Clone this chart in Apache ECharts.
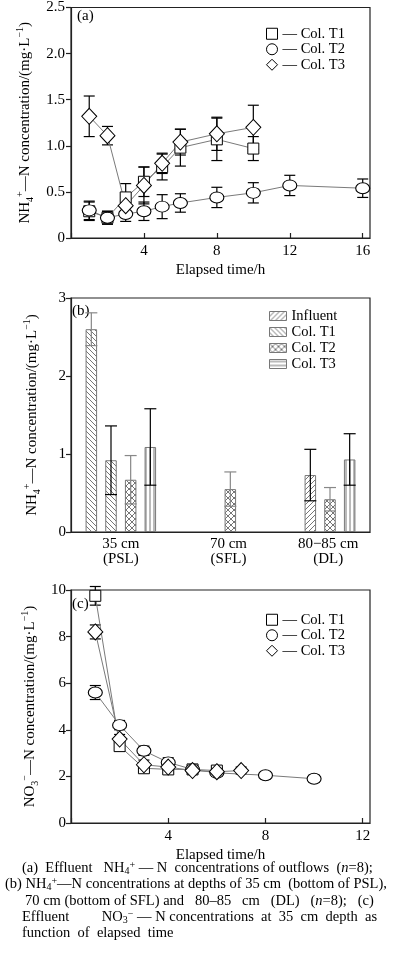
<!DOCTYPE html>
<html><head><meta charset="utf-8">
<script src="https://cdn.jsdelivr.net/npm/echarts@6.0.0/dist/echarts.min.js"></script>
<style>html,body{margin:0;padding:0;background:#fff}#c{width:397px;height:963px}</style>
</head><body><div id="c"></div>
<script>
// ================= DATA =================
// Panel (a): effluent NH4+-N vs elapsed time
const timeA_T1 = [1, 2, 3, 4, 5, 6, 8, 10];
const nh4A_T1 = [0.29, 0.22, 0.44, 0.61, 0.77, 0.98, 1.07, 0.97];
const errA_T1 = [0.10, 0.07, 0.15, 0.16, 0.14, 0.20, 0.23, 0.13];
const timeA_T2 = [1, 2, 3, 4, 5, 6, 8, 10, 12, 16];
const nh4A_T2 = [0.30, 0.22, 0.26, 0.29, 0.34, 0.38, 0.44, 0.49, 0.57, 0.54];
const errA_T2 = [0.10, 0.07, 0.08, 0.10, 0.13, 0.10, 0.11, 0.11, 0.11, 0.10];
const timeA_T3 = [1, 2, 3, 4, 5, 6, 8, 10];
const nh4A_T3 = [1.32, 1.11, 0.35, 0.57, 0.81, 1.04, 1.13, 1.20];
const errA_T3 = [0.22, 0.10, 0.06, 0.20, 0.11, 0.14, 0.18, 0.24];
const yTicksA = ['0', '0.5', '1.0', '1.5', '2.0', '2.5'];

// Panel (b): NH4+-N at depths
const depthCategories = ['35 cm\n(PSL)', '70 cm\n(SFL)', '80\u221285 cm\n(DL)'];
const nh4B_Influent = [2.6, '-', '-'];
const nh4B_T1 = [0.92, '-', 0.73];
const nh4B_T2 = [0.67, 0.55, 0.42];
const nh4B_T3 = [1.09, '-', 0.93];
const errB_Influent = [0.21, 0, 0];
const errB_T1 = [0.44, 0, 0.33];
const errB_T2 = [0.31, 0.22, 0.15];
const errB_T3 = [0.49, 0, 0.33];

// Panel (c): effluent NO3--N vs elapsed time
const timeC_T1 = [1, 2, 3, 4, 5, 6];
const no3C_T1 = [9.75, 3.3, 2.35, 2.3, 2.3, 2.25];
const errC_T1 = [0.40, 0.2, 0.15, 0.15, 0.15, 0.15];
const timeC_T2 = [1, 2, 3, 4, 5, 6, 8, 10];
const no3C_T2 = [5.6, 4.2, 3.1, 2.6, 2.3, 2.15, 2.05, 1.9];
const errC_T2 = [0.3, 0.2, 0.2, 0.2, 0.15, 0.15, 0.15, 0.15];
const timeC_T3 = [1, 2, 3, 4, 5, 6, 7];
const no3C_T3 = [8.2, 3.6, 2.5, 2.4, 2.25, 2.2, 2.25];
const errC_T3 = [0.3, 0.2, 0.2, 0.15, 0.15, 0.15, 0.15];

// ================= STYLE / BUILD =================
const FONT = '"Liberation Serif", "Times New Roman", serif';
const AX = '#222';

function pattern(kind, size) {
  const s = size, c = document.createElement('canvas');
  c.width = s; c.height = s;
  const g = c.getContext('2d');
  g.fillStyle = '#fff'; g.fillRect(0, 0, s, s);
  g.strokeStyle = '#666'; g.lineWidth = 0.9;
  g.beginPath();
  for (const d of [-s, 0, s]) {
    if (kind === 'back' || kind === 'cross') { g.moveTo(d, 0); g.lineTo(d + s, s); }
    if (kind === 'slash' || kind === 'cross') { g.moveTo(d, s); g.lineTo(d + s, 0); }
  }
  if (kind === 'vert') { g.moveTo(s / 2, 0); g.lineTo(s / 2, s); }
  if (kind === 'horiz') { g.moveTo(0, s / 2); g.lineTo(s, s / 2); }
  g.stroke();
  return { image: c, repeat: 'repeat' };
}
const P = {
  slash: pattern('slash', 5), back: pattern('back', 5), cross: pattern('cross', 6),
  vert: pattern('vert', 4), horiz: pattern('horiz', 4)
};

const markerStyle = { color: '#fff', borderColor: '#000', borderWidth: 1 };
const SYM = { T1: ['rect', [11, 11]], T2: ['circle', [14, 11]], T3: ['diamond', [15, 16]] };

function lineSeries(id, idx, xs, ys, sym) {
  return {
    id: id, name: id, type: 'line', xAxisIndex: idx, yAxisIndex: idx,
    data: xs.map((x, i) => [x, ys[i]]),
    symbol: SYM[sym][0], symbolSize: SYM[sym][1],
    itemStyle: markerStyle, lineStyle: { color: '#7a7a7a', width: 1 },
    z: 4, silent: true, animation: false, clip: false
  };
}
function errSeries(idx, xs, ys, es) {
  return {
    type: 'custom', xAxisIndex: idx, yAxisIndex: idx, z: 2, silent: true, animation: false,
    data: xs.map((x, i) => [x, ys[i] - es[i], ys[i] + es[i]]),
    encode: { x: 0, y: [1, 2] },
    renderItem: function (params, api) {
      const x = api.value(0), lo = api.value(1), hi = api.value(2);
      const a = api.coord([x, hi]), b = api.coord([x, lo]);
      const st = { stroke: '#000', lineWidth: 1.2 };
      const w = 5.5;
      return { type: 'group', children: [
        { type: 'line', shape: { x1: a[0], y1: a[1], x2: b[0], y2: b[1] }, style: st },
        { type: 'line', shape: { x1: a[0] - w, y1: a[1], x2: a[0] + w, y2: a[1] }, style: st },
        { type: 'line', shape: { x1: b[0] - w, y1: b[1], x2: b[0] + w, y2: b[1] }, style: st }
      ] };
    }
  };
}

const BAR_W = 11.5, BAR_GAP = 0.71, BAR_STEP = BAR_W * (1 + BAR_GAP);
const barSeriesDefs = [
  { id: 'b_Inf', vals: nh4B_Influent, errs: errB_Influent, pat: P.slash, over: { 0: P.back }, ec: '#888' },
  { id: 'b_T1', vals: nh4B_T1, errs: errB_T1, pat: P.back, over: { 2: P.slash }, ec: '#000' },
  { id: 'b_T2', vals: nh4B_T2, errs: errB_T2, pat: P.cross, over: {}, ec: '#888' },
  { id: 'b_T3', vals: nh4B_T3, errs: errB_T3, pat: P.vert, over: {}, ec: '#000' }
];
const barSeries = barSeriesDefs.map(d => ({
  id: d.id, name: d.id, type: 'bar', xAxisIndex: 1, yAxisIndex: 1,
  barWidth: BAR_W, barGap: (BAR_GAP * 100) + '%',
  itemStyle: { color: d.pat, borderColor: '#777', borderWidth: 1 },
  data: d.vals.map((v, i) => d.over[i] && v !== '-' ? { value: v, itemStyle: { color: d.over[i] } } : v),
  z: 2, silent: true, animation: false
}));
const barErrData = [];
barSeriesDefs.forEach((d, k) => d.vals.forEach((v, i) => {
  if (v !== '-') barErrData.push([i, v, d.errs[i], k]);
}));
const barErr = {
  type: 'custom', xAxisIndex: 1, yAxisIndex: 1, z: 6, silent: true, animation: false,
  data: barErrData, encode: { x: 0, y: 1 },
  renderItem: function (params, api) {
    const cat = api.value(0), v = api.value(1), e = api.value(2), k = api.value(3);
    const c = api.coord([cat, v]);
    const x = c[0] + (k - 1.5) * BAR_STEP;
    const yt = api.coord([cat, v + e])[1], yb = api.coord([cat, v - e])[1];
    const st = { stroke: barSeriesDefs[k].ec, lineWidth: 1.2 };
    const w = 6;
    return { type: 'group', children: [
      { type: 'line', shape: { x1: x, y1: yt, x2: x, y2: yb }, style: st },
      { type: 'line', shape: { x1: x - w, y1: yt, x2: x + w, y2: yt }, style: st },
      { type: 'line', shape: { x1: x - w, y1: yb, x2: x + w, y2: yb }, style: st }
    ] };
  }
};

const nameRich = {
  t: { fontFamily: FONT, fontSize: 15, lineHeight: 20, verticalAlign: 'middle', color: '#000' },
  sup: { fontFamily: FONT, fontSize: 10, lineHeight: 10, verticalAlign: 'top', color: '#000' },
  sub: { fontFamily: FONT, fontSize: 10, lineHeight: 10, verticalAlign: 'bottom', color: '#000' }
};
const labelStyle = { fontFamily: FONT, fontSize: 15, color: '#000' };

function valueY(idx, min, max, interval, nameRichText, fmt, margin) {
  return {
    type: 'value', gridIndex: idx, min: min, max: max, interval: interval,
    name: nameRichText, nameLocation: 'middle', nameGap: 29,
    nameTextStyle: { rich: nameRich },
    axisLine: { show: true, lineStyle: { color: AX, width: 1.2 } },
    axisTick: { show: true, inside: false, length: 5, lineStyle: { color: AX, width: 1.2 } },
    axisLabel: Object.assign({ margin: margin, formatter: fmt }, labelStyle),
    splitLine: { show: false }
  };
}
function valueX(idx, min, max) {
  return {
    type: 'value', gridIndex: idx, min: min, max: max, interval: 4,
    name: 'Elapsed time/h', nameLocation: 'middle', nameGap: 25,
    nameTextStyle: { fontFamily: FONT, fontSize: 15, color: '#000' },
    axisLine: { show: true, lineStyle: { color: AX, width: 1.2 } },
    axisTick: { show: true, inside: true, length: 5, lineStyle: { color: AX, width: 1.2 } },
    axisLabel: Object.assign({ margin: 6, formatter: v => (v === 0 ? '' : String(v)) }, labelStyle),
    splitLine: { show: false }
  };
}

const gridBase = { left: 71, width: 299, show: true, borderColor: AX, borderWidth: 1.2, backgroundColor: 'transparent' };

const legendTextMap = {
  a_T1: '\u2014 Col. T1', a_T2: '\u2014 Col. T2', a_T3: '\u2014 Col. T3',
  c_T1: '\u2014 Col. T1', c_T2: '\u2014 Col. T2', c_T3: '\u2014 Col. T3',
  b_Inf: 'Influent', b_T1: 'Col. T1', b_T2: 'Col. T2', b_T3: 'Col. T3'
};
function markerLegend(prefix, top) {
  return {
    orient: 'vertical', left: 266, top: top, itemGap: 0, itemWidth: 11, itemHeight: 11,
    selectedMode: false, padding: 0,
    data: [
      { name: prefix + '_T1', icon: 'rect' },
      { name: prefix + '_T2', icon: 'circle' },
      { name: prefix + '_T3', icon: 'diamond' }
    ],
    itemStyle: markerStyle,
    formatter: n => legendTextMap[n],
    textStyle: { fontFamily: FONT, fontSize: 14.5, color: '#000', lineHeight: 15.5 }
  };
}

const captionRich = {
  sub: { fontFamily: FONT, fontSize: 10, lineHeight: 16, verticalAlign: 'bottom' },
  sup: { fontFamily: FONT, fontSize: 10, lineHeight: 10, verticalAlign: 'top' },
  i: { fontFamily: FONT, fontSize: 14.5, fontStyle: 'italic' }
};
function cap(text, left, top) {
  return { type: 'text', left: left, top: top, silent: true,
    style: { text: text, fontFamily: FONT, fontSize: 14.5, fill: '#000', rich: captionRich, lineHeight: 16 } };
}
function panelLabel(t, left, top) {
  return { type: 'text', left: left, top: top, silent: true,
    style: { text: t, fontFamily: FONT, fontSize: 15, fill: '#000' } };
}

const option = {
  backgroundColor: '#fff',
  animation: false,
  grid: [
    Object.assign({ top: 5, height: 233 }, gridBase),
    Object.assign({ top: 298, height: 234 }, gridBase),
    Object.assign({ top: 590, height: 233 }, gridBase)
  ],
  xAxis: [
    valueX(0, 0, 16.4),
    {
      type: 'category', gridIndex: 1, data: depthCategories,
      axisLine: { show: true, lineStyle: { color: AX, width: 1.2 } },
      axisTick: { show: false },
      axisLabel: Object.assign({ margin: 5, lineHeight: 15, interval: 0,
        formatter: (v, i) => v.split('\n').map(s => (i === 0 ? '{a|' : '{b|') + s + '}').join('\n'),
        rich: { a: { fontFamily: FONT, fontSize: 15, lineHeight: 15 },
                b: { fontFamily: FONT, fontSize: 15, lineHeight: 15, padding: [0, 0, 0, 16] } }
      }, labelStyle),
      splitLine: { show: false }
    },
    valueX(2, 0, 12.3)
  ],
  yAxis: [
    valueY(0, 0, 2.5, 0.5, '{t|NH}{sub|4}{sup|+}{t|\u2014N concentration/(mg\u00b7L}{sup|\u22121}{t|)}',
      v => yTicksA[Math.round(v / 0.5)], 6),
    valueY(1, 0, 3, 1, '{t|NH}{sub|4}{sup|+}{t|\u2014N concentration/(mg\u00b7L}{sup|\u22121}{t|)}',
      v => String(v), 5),
    valueY(2, 0, 10, 2, '{t|NO}{sub|3}{sup|\u2212}{t|\u2014N concentration/(mg\u00b7L}{sup|\u22121}{t|)}',
      v => String(v), 5)
  ],
  legend: [
    markerLegend('a', 26),
    markerLegend('c', 612),
    {
      orient: 'vertical', left: 269, top: 308, itemGap: 0, itemWidth: 17, itemHeight: 9,
      selectedMode: false, padding: 0, icon: 'rect',
      data: [
        { name: 'b_Inf', itemStyle: { color: P.slash, borderColor: '#777', borderWidth: 1 } },
        { name: 'b_T1', itemStyle: { color: P.back, borderColor: '#777', borderWidth: 1 } },
        { name: 'b_T2', itemStyle: { color: P.cross, borderColor: '#777', borderWidth: 1 } },
        { name: 'b_T3', itemStyle: { color: P.horiz, borderColor: '#777', borderWidth: 1 } }
      ],
      formatter: n => legendTextMap[n],
      textStyle: { fontFamily: FONT, fontSize: 14.5, color: '#000', lineHeight: 16 }
    }
  ],
  series: [
    errSeries(0, timeA_T1, nh4A_T1, errA_T1),
    errSeries(0, timeA_T2, nh4A_T2, errA_T2),
    errSeries(0, timeA_T3, nh4A_T3, errA_T3),
    lineSeries('a_T1', 0, timeA_T1, nh4A_T1, 'T1'),
    lineSeries('a_T2', 0, timeA_T2, nh4A_T2, 'T2'),
    lineSeries('a_T3', 0, timeA_T3, nh4A_T3, 'T3'),
    ...barSeries,
    barErr,
    errSeries(2, timeC_T1, no3C_T1, errC_T1),
    errSeries(2, timeC_T2, no3C_T2, errC_T2),
    errSeries(2, timeC_T3, no3C_T3, errC_T3),
    lineSeries('c_T1', 2, timeC_T1, no3C_T1, 'T1'),
    lineSeries('c_T2', 2, timeC_T2, no3C_T2, 'T2'),
    lineSeries('c_T3', 2, timeC_T3, no3C_T3, 'T3')
  ],
  graphic: [
    panelLabel('(a)', 77, 9),
    panelLabel('(b)', 72, 304),
    panelLabel('(c)', 72, 597),
    cap('(a)  Effluent   NH{sub|4}{sup|+} \u2014 N  concentrations of outflows  ({i|n}=8);', 22, 860),
    cap('(b) NH{sub|4}{sup|+}\u2014N concentrations at depths of 35 cm  (bottom of PSL),', 5, 876),
    cap('70 cm (bottom of SFL) and   80\u201385   cm   (DL)   ({i|n}=8);   (c)', 25, 893),
    cap('Effluent         NO{sub|3}{sup|\u2212} \u2014 N concentrations  at  35  cm  depth  as', 22, 909),
    cap('function  of  elapsed  time', 22, 925)
  ]
};

const chart = echarts.init(document.getElementById('c'), null, { renderer: 'canvas' });
chart.setOption(option);
</script>
</body></html>
